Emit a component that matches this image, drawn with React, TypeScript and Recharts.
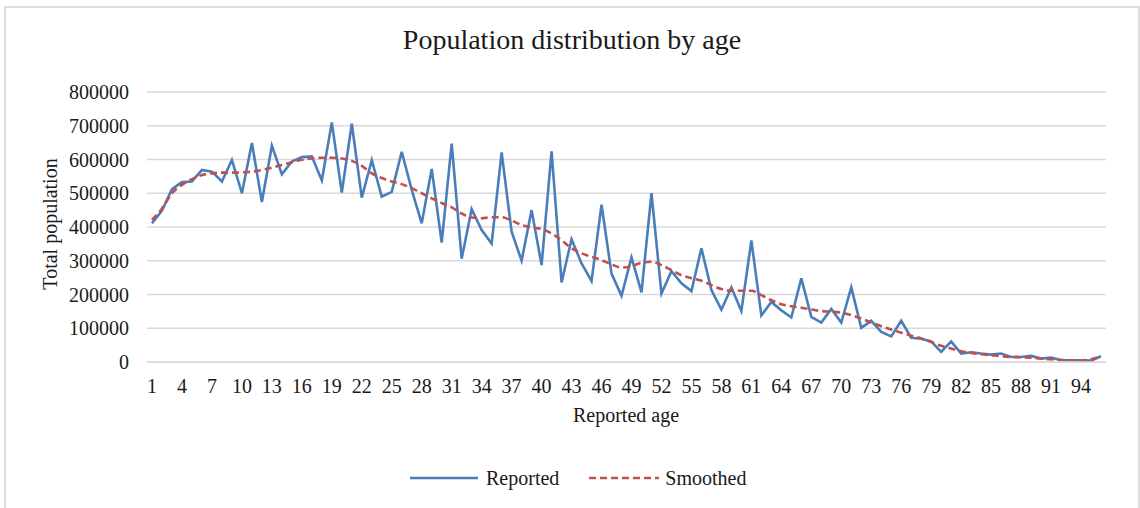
import React from 'react';
import { LineChart, Line, XAxis, YAxis, CartesianGrid } from 'recharts';

const ages: number[] = Array.from({ length: 96 }, (_, i) => i + 1);

const reported: number[] = [
  411000, 449000, 512000, 533000, 535000, 569000, 564000, 535000, 599000, 500000,
  649000, 474000, 641000, 556000, 594000, 607000, 609000, 538000, 710000, 502000,
  706000, 487000, 598000, 490000, 504000, 623000, 510000, 411000, 572000, 354000,
  647000, 306000, 453000, 391000, 351000, 621000, 386000, 300000, 450000, 287000,
  624000, 236000, 364000, 292000, 240000, 466000, 262000, 196000, 310000, 206000,
  500000, 203000, 269000, 233000, 210000, 337000, 213000, 155000, 221000, 151000,
  360000, 138000, 178000, 153000, 132000, 248000, 134000, 117000, 157000, 117000,
  221000, 101000, 122000, 89000, 76000, 122000, 72000, 69000, 61000, 30000,
  61000, 25000, 29000, 25000, 22000, 25000, 15000, 15000, 18000, 10000,
  13000, 6000, 5000, 5000, 4000, 17000,
];

const smoothed: number[] = [
  421000, 455000, 500000, 525000, 542000, 554000, 559000, 561000, 561000, 562000,
  564000, 569000, 576000, 584000, 592000, 599000, 603000, 605000, 605000, 603000,
  596000, 581000, 559000, 545000, 535000, 527000, 515000, 500000, 485000, 471000,
  458000, 440000, 428000, 426000, 429000, 429000, 419000, 406000, 399000, 394000,
  381000, 361000, 337000, 322000, 312000, 302000, 289000, 280000, 284000, 294000,
  297000, 287000, 272000, 257000, 248000, 241000, 228000, 216000, 211000, 211000,
  211000, 198000, 183000, 171000, 165000, 161000, 156000, 151000, 149000, 146000,
  139000, 129000, 117000, 106000, 96000, 87000, 78000, 70000, 59000, 48000,
  40000, 32000, 27000, 23000, 20000, 17000, 15000, 14000, 13000, 10000,
  8000, 6000, 5000, 5000, 8000, 17000,
];

const yTicks: number[] = [0, 100000, 200000, 300000, 400000, 500000, 600000, 700000, 800000];

const data = ages.map((age, i) => ({ age, reported: reported[i], smoothed: smoothed[i] }));

const FONT = '"Liberation Serif", "Times New Roman", serif';
const BLUE = '#4a7ebb';
const RED = '#c0504d';

export default function App() {
  return (
    <div
      style={{
        position: 'absolute',
        left: 0,
        top: 0,
        width: 1140,
        height: 508,
        overflow: 'hidden',
        background: '#ffffff',
        fontFamily: FONT,
      }}
    >
      <div
        style={{
          position: 'absolute',
          left: 4,
          top: 6,
          width: 1132,
          height: 520,
          border: '2px solid #dcdcdc',
        }}
      />
      <LineChart
        width={1140}
        height={508}
        data={data}
        margin={{ top: 92, right: 34, bottom: 116, left: 47 }}
        style={{ position: 'absolute', left: 0, top: 0 }}
      >
        <CartesianGrid vertical={false} stroke="#d9d9d9" strokeWidth={1.3} />
        <XAxis
          dataKey="age"
          height={30}
          interval={2}
          padding={{ left: 5, right: 5 }}
          axisLine={{ stroke: '#d9d9d9', strokeWidth: 1.3 }}
          tickLine={false}
          tickMargin={11}
          tick={{ fontSize: 20, fill: '#1a1a1a', fontFamily: FONT }}
        />
        <YAxis
          width={100}
          domain={[0, 800000]}
          ticks={yTicks}
          axisLine={false}
          tickLine={false}
          tickMargin={12}
          tick={{ fontSize: 20, fill: '#1a1a1a', fontFamily: FONT }}
        />
        <Line
          type="linear"
          dataKey="reported"
          stroke={BLUE}
          strokeWidth={2.6}
          dot={false}
          isAnimationActive={false}
        />
        <Line
          type="monotone"
          dataKey="smoothed"
          stroke={RED}
          strokeWidth={2.6}
          strokeDasharray="7 4"
          dot={false}
          isAnimationActive={false}
        />
      </LineChart>
      <div
        style={{
          position: 'absolute',
          left: 0,
          width: 1144,
          top: 24,
          textAlign: 'center',
          fontSize: 28,
          color: '#1a1a1a',
          lineHeight: '32px',
        }}
      >
        Population distribution by age
      </div>
      <div
        style={{
          position: 'absolute',
          left: 50,
          top: 224,
          transform: 'translate(-50%, -50%) rotate(-90deg)',
          fontSize: 20,
          whiteSpace: 'nowrap',
          color: '#1a1a1a',
          lineHeight: '24px',
        }}
      >
        Total population
      </div>
      <div
        style={{
          position: 'absolute',
          left: 426,
          width: 400,
          top: 403,
          textAlign: 'center',
          fontSize: 20,
          color: '#1a1a1a',
          lineHeight: '24px',
        }}
      >
        Reported age
      </div>
      <div
        style={{
          position: 'absolute',
          left: 410,
          top: 466,
          display: 'flex',
          alignItems: 'center',
          fontSize: 20,
          color: '#1a1a1a',
          lineHeight: '24px',
          whiteSpace: 'nowrap',
        }}
      >
        <svg width={68} height={6} style={{ display: 'block' }}>
          <line x1={0} y1={3} x2={68} y2={3} stroke={BLUE} strokeWidth={2.6} />
        </svg>
        <span style={{ marginLeft: 8 }}>Reported</span>
        <svg width={70} height={6} style={{ display: 'block', marginLeft: 30 }}>
          <line x1={0} y1={3} x2={70} y2={3} stroke={RED} strokeWidth={2.6} strokeDasharray="7 4" />
        </svg>
        <span style={{ marginLeft: 6 }}>Smoothed</span>
      </div>
    </div>
  );
}
